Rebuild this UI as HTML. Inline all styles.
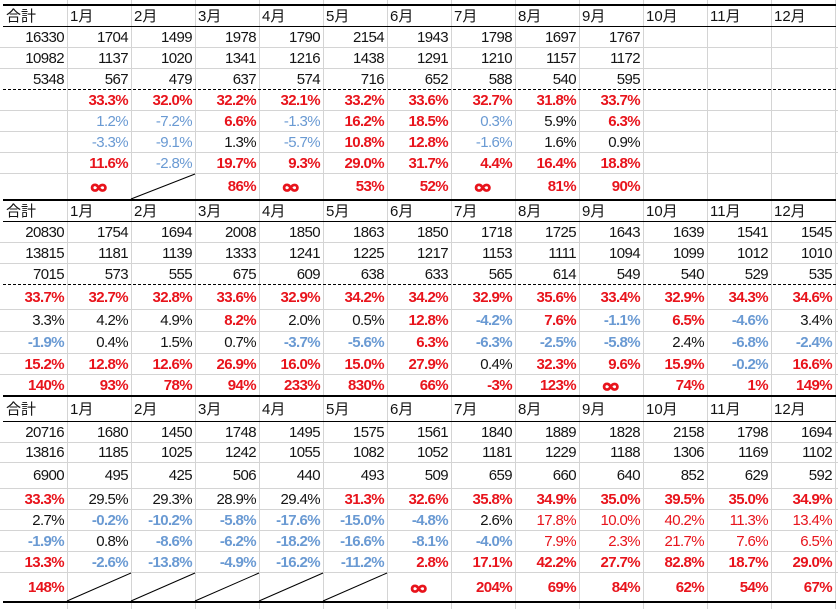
<!DOCTYPE html>
<html><head><meta charset="utf-8">
<style>
html,body{margin:0;padding:0;background:#fff;}
body{width:838px;height:609px;position:relative;overflow:hidden;font-family:"Liberation Sans","Noto Sans CJK JP",sans-serif;font-size:15px;color:#141414;}
svg{position:absolute;left:0;top:0;}
.row{position:absolute;left:3px;display:flex;}
.row span{flex:none;width:64px;height:100%;box-sizing:border-box;display:flex;align-items:center;justify-content:flex-end;padding:2px 3px 0 0;line-height:16px;white-space:nowrap;letter-spacing:-0.6px;}
.row.hd span{justify-content:flex-start;padding:2px 0 0 3px;font-size:15px;letter-spacing:0;}
.R{color:#e8141c;font-weight:bold;}
.rn{color:#e8141c;}
.b{color:#6a9ad3;}
.bb{color:#6a9ad3;font-weight:bold;}
.row span.inf{justify-content:center;padding:2px 0 0 0;color:#e8141c;font-weight:bold;font-family:"DejaVu Sans",sans-serif;font-size:21px;letter-spacing:0;}
.inf b{display:inline-block;transform:scale(1.1,0.85);-webkit-text-stroke:1px #e8141c;}
</style></head>
<body>
<svg width="838" height="609" viewBox="0 0 838 609">
<g stroke="#d4d4d4" stroke-width="1" shape-rendering="crispEdges">
<line x1="67.5" y1="0" x2="67.5" y2="609"/>
<line x1="131.5" y1="0" x2="131.5" y2="609"/>
<line x1="195.5" y1="0" x2="195.5" y2="609"/>
<line x1="259.5" y1="0" x2="259.5" y2="609"/>
<line x1="323.5" y1="0" x2="323.5" y2="609"/>
<line x1="387.5" y1="0" x2="387.5" y2="609"/>
<line x1="451.5" y1="0" x2="451.5" y2="609"/>
<line x1="515.5" y1="0" x2="515.5" y2="609"/>
<line x1="579.5" y1="0" x2="579.5" y2="609"/>
<line x1="643.5" y1="0" x2="643.5" y2="609"/>
<line x1="707.5" y1="0" x2="707.5" y2="609"/>
<line x1="771.5" y1="0" x2="771.5" y2="609"/>
<line x1="835.5" y1="0" x2="835.5" y2="609"/>
<line x1="0" y1="47.5" x2="838" y2="47.5"/>
<line x1="0" y1="68.5" x2="838" y2="68.5"/>
<line x1="0" y1="110.5" x2="838" y2="110.5"/>
<line x1="0" y1="131.5" x2="838" y2="131.5"/>
<line x1="0" y1="152.5" x2="838" y2="152.5"/>
<line x1="0" y1="173.5" x2="838" y2="173.5"/>
<line x1="0" y1="242.5" x2="838" y2="242.5"/>
<line x1="0" y1="263.5" x2="838" y2="263.5"/>
<line x1="0" y1="309.5" x2="838" y2="309.5"/>
<line x1="0" y1="331.5" x2="838" y2="331.5"/>
<line x1="0" y1="353.5" x2="838" y2="353.5"/>
<line x1="0" y1="374.5" x2="838" y2="374.5"/>
<line x1="0" y1="442.5" x2="838" y2="442.5"/>
<line x1="0" y1="462.5" x2="838" y2="462.5"/>
<line x1="0" y1="488.5" x2="838" y2="488.5"/>
<line x1="0" y1="509.5" x2="838" y2="509.5"/>
<line x1="0" y1="530.5" x2="838" y2="530.5"/>
<line x1="0" y1="551.5" x2="838" y2="551.5"/>
<line x1="0" y1="572.5" x2="838" y2="572.5"/>
</g>
<g stroke="#000" stroke-width="1" shape-rendering="crispEdges">
<line x1="3" y1="26.5" x2="836" y2="26.5"/>
<line x1="3" y1="221.5" x2="836" y2="221.5"/>
<line x1="3" y1="421.5" x2="836" y2="421.5"/>
<line x1="3" y1="89.5" x2="838" y2="89.5" stroke-dasharray="3,2"/>
<line x1="3" y1="284.5" x2="838" y2="284.5" stroke-dasharray="3,2"/>
</g>
<g stroke="#000" stroke-width="2" shape-rendering="crispEdges">
<line x1="3" y1="5" x2="836" y2="5"/>
<line x1="3" y1="200" x2="836" y2="200"/>
<line x1="3" y1="396" x2="836" y2="396"/>
<line x1="3" y1="602" x2="836" y2="602"/>
</g>
<g stroke="#000" stroke-width="1">
<line x1="131" y1="199" x2="195" y2="174"/>
<line x1="67" y1="601" x2="131" y2="573"/>
<line x1="131" y1="601" x2="195" y2="573"/>
<line x1="195" y1="601" x2="259" y2="573"/>
<line x1="259" y1="601" x2="323" y2="573"/>
<line x1="323" y1="601" x2="387" y2="573"/>
</g>
</svg>

<!-- Block 1 -->
<div class="row hd" style="top:6px;height:20px"><span>合計</span><span>1月</span><span>2月</span><span>3月</span><span>4月</span><span>5月</span><span>6月</span><span>7月</span><span>8月</span><span>9月</span><span>10月</span><span>11月</span><span>12月</span></div>
<div class="row" style="top:26px;height:21px"><span>16330</span><span>1704</span><span>1499</span><span>1978</span><span>1790</span><span>2154</span><span>1943</span><span>1798</span><span>1697</span><span>1767</span><span></span><span></span><span></span></div>
<div class="row" style="top:47px;height:21px"><span>10982</span><span>1137</span><span>1020</span><span>1341</span><span>1216</span><span>1438</span><span>1291</span><span>1210</span><span>1157</span><span>1172</span><span></span><span></span><span></span></div>
<div class="row" style="top:68px;height:21px"><span>5348</span><span>567</span><span>479</span><span>637</span><span>574</span><span>716</span><span>652</span><span>588</span><span>540</span><span>595</span><span></span><span></span><span></span></div>
<div class="row" style="top:89px;height:21px"><span></span><span class="R">33.3%</span><span class="R">32.0%</span><span class="R">32.2%</span><span class="R">32.1%</span><span class="R">33.2%</span><span class="R">33.6%</span><span class="R">32.7%</span><span class="R">31.8%</span><span class="R">33.7%</span><span></span><span></span><span></span></div>
<div class="row" style="top:110px;height:21px"><span></span><span class="b">1.2%</span><span class="b">-7.2%</span><span class="R">6.6%</span><span class="b">-1.3%</span><span class="R">16.2%</span><span class="R">18.5%</span><span class="b">0.3%</span><span>5.9%</span><span class="R">6.3%</span><span></span><span></span><span></span></div>
<div class="row" style="top:131px;height:21px"><span></span><span class="b">-3.3%</span><span class="b">-9.1%</span><span>1.3%</span><span class="b">-5.7%</span><span class="R">10.8%</span><span class="R">12.8%</span><span class="b">-1.6%</span><span>1.6%</span><span>0.9%</span><span></span><span></span><span></span></div>
<div class="row" style="top:152px;height:21px"><span></span><span class="R">11.6%</span><span class="b">-2.8%</span><span class="R">19.7%</span><span class="R">9.3%</span><span class="R">29.0%</span><span class="R">31.7%</span><span class="R">4.4%</span><span class="R">16.4%</span><span class="R">18.8%</span><span></span><span></span><span></span></div>
<div class="row" style="top:173px;height:26px"><span></span><span class="inf"><b>∞</b></span><span></span><span class="R">86%</span><span class="inf"><b>∞</b></span><span class="R">53%</span><span class="R">52%</span><span class="inf"><b>∞</b></span><span class="R">81%</span><span class="R">90%</span><span></span><span></span><span></span></div>

<!-- Block 2 -->
<div class="row hd" style="top:201px;height:20px"><span>合計</span><span>1月</span><span>2月</span><span>3月</span><span>4月</span><span>5月</span><span>6月</span><span>7月</span><span>8月</span><span>9月</span><span>10月</span><span>11月</span><span>12月</span></div>
<div class="row" style="top:221px;height:21px"><span>20830</span><span>1754</span><span>1694</span><span>2008</span><span>1850</span><span>1863</span><span>1850</span><span>1718</span><span>1725</span><span>1643</span><span>1639</span><span>1541</span><span>1545</span></div>
<div class="row" style="top:242px;height:21px"><span>13815</span><span>1181</span><span>1139</span><span>1333</span><span>1241</span><span>1225</span><span>1217</span><span>1153</span><span>1111</span><span>1094</span><span>1099</span><span>1012</span><span>1010</span></div>
<div class="row" style="top:263px;height:21px"><span>7015</span><span>573</span><span>555</span><span>675</span><span>609</span><span>638</span><span>633</span><span>565</span><span>614</span><span>549</span><span>540</span><span>529</span><span>535</span></div>
<div class="row" style="top:284px;height:25px"><span class="R">33.7%</span><span class="R">32.7%</span><span class="R">32.8%</span><span class="R">33.6%</span><span class="R">32.9%</span><span class="R">34.2%</span><span class="R">34.2%</span><span class="R">32.9%</span><span class="R">35.6%</span><span class="R">33.4%</span><span class="R">32.9%</span><span class="R">34.3%</span><span class="R">34.6%</span></div>
<div class="row" style="top:309px;height:22px"><span>3.3%</span><span>4.2%</span><span>4.9%</span><span class="R">8.2%</span><span>2.0%</span><span>0.5%</span><span class="R">12.8%</span><span class="bb">-4.2%</span><span class="R">7.6%</span><span class="bb">-1.1%</span><span class="R">6.5%</span><span class="bb">-4.6%</span><span>3.4%</span></div>
<div class="row" style="top:331px;height:22px"><span class="bb">-1.9%</span><span>0.4%</span><span>1.5%</span><span>0.7%</span><span class="bb">-3.7%</span><span class="bb">-5.6%</span><span class="R">6.3%</span><span class="bb">-6.3%</span><span class="bb">-2.5%</span><span class="bb">-5.8%</span><span>2.4%</span><span class="bb">-6.8%</span><span class="bb">-2.4%</span></div>
<div class="row" style="top:353px;height:21px"><span class="R">15.2%</span><span class="R">12.8%</span><span class="R">12.6%</span><span class="R">26.9%</span><span class="R">16.0%</span><span class="R">15.0%</span><span class="R">27.9%</span><span>0.4%</span><span class="R">32.3%</span><span class="R">9.6%</span><span class="R">15.9%</span><span class="bb">-0.2%</span><span class="R">16.6%</span></div>
<div class="row" style="top:374px;height:22px"><span class="R">140%</span><span class="R">93%</span><span class="R">78%</span><span class="R">94%</span><span class="R">233%</span><span class="R">830%</span><span class="R">66%</span><span class="R">-3%</span><span class="R">123%</span><span class="inf"><b>∞</b></span><span class="R">74%</span><span class="R">1%</span><span class="R">149%</span></div>

<!-- Block 3 -->
<div class="row hd" style="top:397px;height:24px"><span>合計</span><span>1月</span><span>2月</span><span>3月</span><span>4月</span><span>5月</span><span>6月</span><span>7月</span><span>8月</span><span>9月</span><span>10月</span><span>11月</span><span>12月</span></div>
<div class="row" style="top:421px;height:21px"><span>20716</span><span>1680</span><span>1450</span><span>1748</span><span>1495</span><span>1575</span><span>1561</span><span>1840</span><span>1889</span><span>1828</span><span>2158</span><span>1798</span><span>1694</span></div>
<div class="row" style="top:442px;height:20px"><span>13816</span><span>1185</span><span>1025</span><span>1242</span><span>1055</span><span>1082</span><span>1052</span><span>1181</span><span>1229</span><span>1188</span><span>1306</span><span>1169</span><span>1102</span></div>
<div class="row" style="top:462px;height:26px"><span>6900</span><span>495</span><span>425</span><span>506</span><span>440</span><span>493</span><span>509</span><span>659</span><span>660</span><span>640</span><span>852</span><span>629</span><span>592</span></div>
<div class="row" style="top:488px;height:21px"><span class="R">33.3%</span><span>29.5%</span><span>29.3%</span><span>28.9%</span><span>29.4%</span><span class="R">31.3%</span><span class="R">32.6%</span><span class="R">35.8%</span><span class="R">34.9%</span><span class="R">35.0%</span><span class="R">39.5%</span><span class="R">35.0%</span><span class="R">34.9%</span></div>
<div class="row" style="top:509px;height:21px"><span>2.7%</span><span class="bb">-0.2%</span><span class="bb">-10.2%</span><span class="bb">-5.8%</span><span class="bb">-17.6%</span><span class="bb">-15.0%</span><span class="bb">-4.8%</span><span>2.6%</span><span class="rn">17.8%</span><span class="rn">10.0%</span><span class="rn">40.2%</span><span class="rn">11.3%</span><span class="rn">13.4%</span></div>
<div class="row" style="top:530px;height:21px"><span class="bb">-1.9%</span><span>0.8%</span><span class="bb">-8.6%</span><span class="bb">-6.2%</span><span class="bb">-18.2%</span><span class="bb">-16.6%</span><span class="bb">-8.1%</span><span class="bb">-4.0%</span><span class="rn">7.9%</span><span class="rn">2.3%</span><span class="rn">21.7%</span><span class="rn">7.6%</span><span class="rn">6.5%</span></div>
<div class="row" style="top:551px;height:21px"><span class="R">13.3%</span><span class="bb">-2.6%</span><span class="bb">-13.8%</span><span class="bb">-4.9%</span><span class="bb">-16.2%</span><span class="bb">-11.2%</span><span class="R">2.8%</span><span class="R">17.1%</span><span class="R">42.2%</span><span class="R">27.7%</span><span class="R">82.8%</span><span class="R">18.7%</span><span class="R">29.0%</span></div>
<div class="row" style="top:572px;height:29px"><span class="R">148%</span><span></span><span></span><span></span><span></span><span></span><span class="inf"><b>∞</b></span><span class="R">204%</span><span class="R">69%</span><span class="R">84%</span><span class="R">62%</span><span class="R">54%</span><span class="R">67%</span></div>
</body></html>
